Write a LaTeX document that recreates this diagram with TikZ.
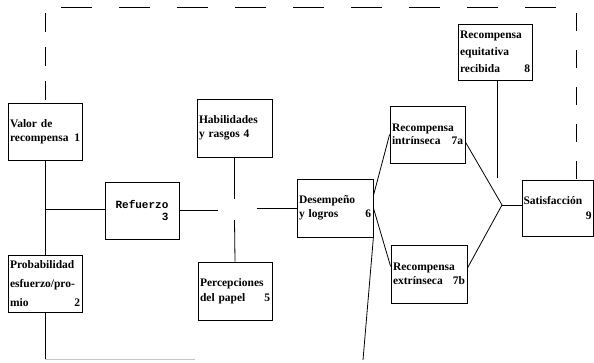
\documentclass[tikz,border=0pt]{standalone}
\usepackage{fontspec}
\setmainfont{Liberation Serif}
\newfontfamily\monob{Liberation Mono}
\usetikzlibrary{calc}
\newcommand\rnum{\hspace*{0pt plus 1filll}}
\begin{document}
\begin{tikzpicture}[x=1pt,y=-1pt,
  box/.style={draw,line width=0.8pt,inner sep=0pt,align=left,
    font=\fontsize{11.5}{14.5}\selectfont\bfseries},
  conn/.style={line width=0.8pt},
  fbline/.style={line width=0.8pt}]
\useasboundingbox (0,0) rectangle (594,362);
% boxes
\node[box,minimum width=74pt,minimum height=57pt,text width=70pt] (v1) at (45,131.5) {Valor de\\recompensa\rnum 1};
\node[box,minimum width=74pt,minimum height=57pt,text width=70pt,font=\fontsize{11.5}{19}\selectfont\bfseries] (v2) at (45,283.5) {Probabilidad\\esfuerzo/pro-\\mio\rnum 2};
\node[box,minimum width=74pt,minimum height=57pt,align=right,font=\fontsize{11}{12.5}\selectfont\monob\bfseries] (v3) at (142,210.5) {Refuerzo\\3};
\node[box,minimum width=75pt,minimum height=58pt,text width=71pt] (v4) at (234.5,128) {Habilidades\\y rasgos 4};
\node[box,minimum width=74pt,minimum height=58pt,text width=70pt] (v5) at (235,291) {Percepciones\\del papel\rnum 5};
\node[box,minimum width=76pt,minimum height=58pt,text width=72pt] (v6) at (335,208) {Desempeño\\y logros\rnum 6};
\node[box,minimum width=75pt,minimum height=57pt,text width=71pt,font=\fontsize{11.5}{13}\selectfont\bfseries] (v7a) at (427.5,134.5) {Recompensa\\intrínseca\rnum 7a};
\node[box,minimum width=76pt,minimum height=58pt,text width=72pt,font=\fontsize{11.5}{13.5}\selectfont\bfseries] (v7b) at (429,274) {Recompensa\\extrínseca\rnum 7b};
\node[box,minimum width=74pt,minimum height=56pt,text width=70pt,font=\fontsize{11.5}{17}\selectfont\bfseries] (v8) at (495,52) {Recompensa\\equitativa\\recibida\rnum 8};
\node[box,minimum width=71pt,minimum height=56pt,text width=68pt,font=\fontsize{11.5}{15}\selectfont\bfseries] (v9) at (557.5,208) {Satisfacción\\\rnum 9};
% junction coordinates
\coordinate (jl) at (45,209);
\coordinate (ja) at (218,210.5);
\coordinate (jb) at (257,208);
\coordinate (jc) at (234.5,199);
\coordinate (jd) at (234.5,220);
\coordinate (cb) at (45,359);
\coordinate (ce) at (195,359);
\coordinate (cd) at (363,360);
\coordinate (J) at (502,205);
\coordinate (j8) at (497,178);
\coordinate (fa) at (45,13);
\coordinate (fb) at (61,7);
\coordinate (fc) at (556,7);
\coordinate (fd) at (576,13);
% connectors
\draw[conn] (v1) -- (v2);
\draw[conn] (jl) -- (jl -| v3.west);
\draw[conn] (v3.east) -- (ja);
\draw[conn] (jb) -- (v6.west);
\draw[conn] (v4.south) -- (jc);
\draw[conn] (jd) -- (v5.north);
\draw[conn] (v2.south) -- (cb);
\draw[conn,gray!45] (cb) -- (ce);
\draw[conn] (v6.south east) -- (cd);
\draw[conn] ($(v6.north east)!0.29!(v6.south east)$) -- (v7a.west);
\draw[conn] (v6.east) -- ($(v7b.north west)!0.37!(v7b.south west)$);
\draw[conn] ($(v7a.north east)!0.63!(v7a.south east)$) -- (J);
\draw[conn] ($(v7b.north east)!0.4!(v7b.south east)$) -- (J);
\draw[conn] (J) -- (J -| v9.west);
\draw[conn] (j8 |- v8.south) -- (j8);
% feedback dashed loop
\draw[fbline,dash pattern=on 19pt off 15pt] (fa) -- (v1.north);
\draw[fbline,dash pattern=on 31pt off 27pt] (fb) -- (fc);
\draw[fbline,dash pattern=on 18pt off 19pt] (fd) -- (fd |- v9.north);
\end{tikzpicture}
\end{document}
